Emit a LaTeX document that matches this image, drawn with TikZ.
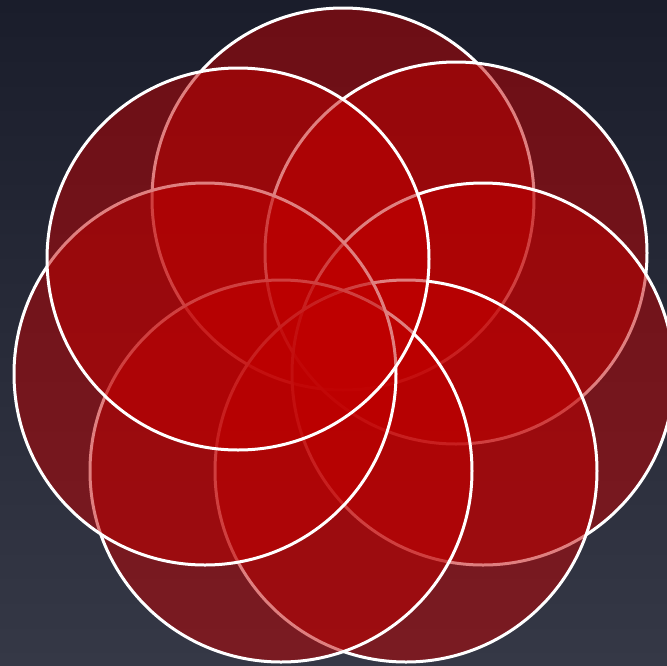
\documentclass[tikz,border=0pt]{standalone}
\definecolor{bgtop}{RGB}{26,29,43}
\definecolor{bgbot}{RGB}{53,56,70}
\definecolor{petalred}{RGB}{192,0,0}
\begin{document}
\begin{tikzpicture}[x=1pt,y=-1pt,
  petal/.style={circle, draw=white, line width=3pt, fill=petalred, fill opacity=0.5,
    minimum size=382pt, inner sep=0pt, outer sep=0pt}]
\shade[top color=bgtop, bottom color=bgbot] (0,0) rectangle (667,665);
\useasboundingbox (0,0) rectangle (667,665);
\node[petal] (t)  at (343,199) {};
\node[petal] (ur) at (456,253) {};
\node[petal] (r)  at (483,374) {};
\node[petal] (br) at (406,471) {};
\node[petal] (bl) at (281,471) {};
\node[petal] (l)  at (205,374) {};
\node[petal] (ul) at (238,259) {};
\end{tikzpicture}
\end{document}
